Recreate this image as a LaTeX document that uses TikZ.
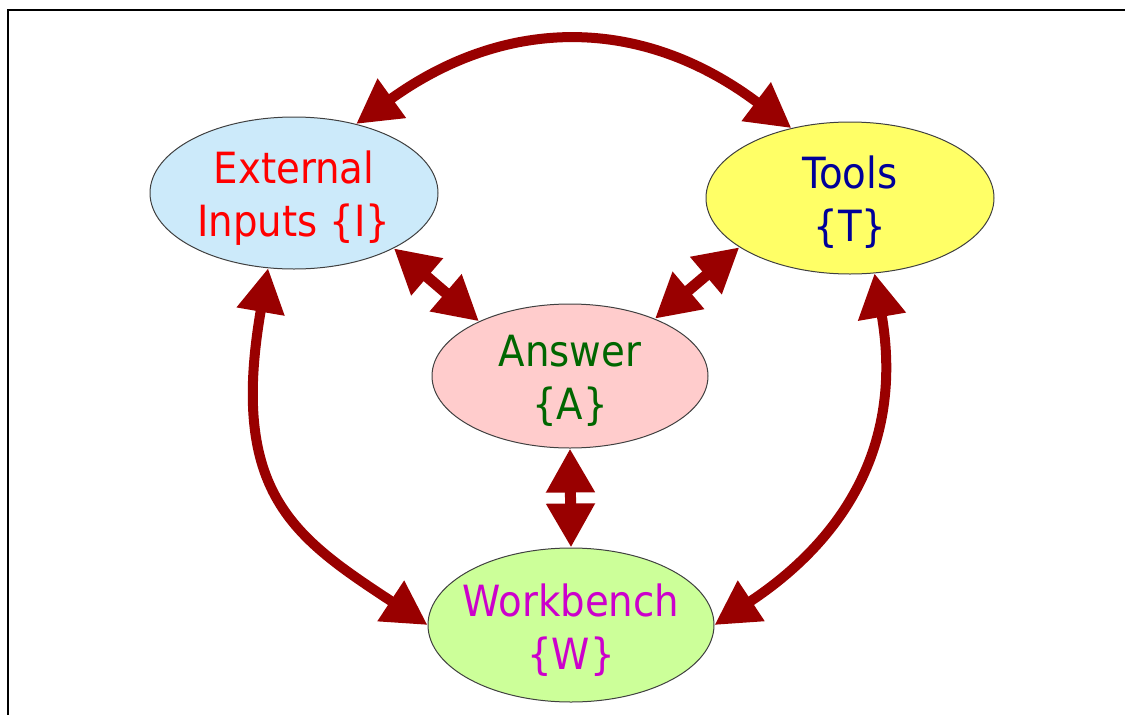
\documentclass[tikz,border=0pt]{standalone}
\usepackage{fontspec}
\setmainfont{DejaVu Sans Condensed}
\usetikzlibrary{arrows.meta,shapes.geometric}
\definecolor{linkred}{HTML}{990000}
\definecolor{inputfill}{HTML}{CCEAFA}
\definecolor{toolfill}{HTML}{FFFF66}
\definecolor{answerfill}{HTML}{FFCCCC}
\definecolor{benchfill}{HTML}{CCFF99}
\definecolor{toolink}{HTML}{000099}
\definecolor{answerink}{HTML}{006600}
\definecolor{benchink}{HTML}{CC00CC}
% struts that fix the vertical extent of the two-line labels
\newcommand\mytopstrut{\rule{0pt}{42pt}}
\newcommand\mybotstrut{\rule[-7pt]{0pt}{7pt}}
\begin{document}
\begin{tikzpicture}[x=1pt,y=1pt,
  ell/.style={ellipse, draw=black!75, line width=1pt, inner sep=0pt},
  lbl/.style={align=center, inner sep=0pt, font=\fontsize{43pt}{53pt}\selectfont},
  link/.style={linkred, line width=10pt,
    {Triangle[length=44pt,width=46pt]}-{Triangle[length=44pt,width=46pt]}}]
\useasboundingbox (0,0) rectangle (1125,-715);
% frame
\draw[line width=2.5pt] (8,-720) -- (8,-10) -- (1130,-10);

% sets
\node[ell, fill=inputfill,  minimum width=288pt, minimum height=152pt] (I) at (294,-193) {};
\node[ell, fill=toolfill,   minimum width=288pt, minimum height=152pt] (T) at (850,-198) {};
\node[ell, fill=answerfill, minimum width=276pt, minimum height=144pt] (A) at (570,-376) {};
\node[ell, fill=benchfill,  minimum width=286pt, minimum height=154pt] (W) at (571,-625) {};

\node[lbl, text=red]       (Itx) at (I) {External\mytopstrut\\Inputs \{I\}\mybotstrut};
\node[lbl, text=toolink]   (Ttx) at (T) {Tools\mytopstrut\\\{T\}\mybotstrut};
\node[lbl, text=answerink] (Atx) at (A) {Answer\mytopstrut\\\{A\}\mybotstrut};
\node[lbl, text=benchink]  (Wtx) at (W) {Workbench\mytopstrut\\\{W\}\mybotstrut};

% relations
\draw[link] (I.48) .. controls +(35.8:186) and +(143:186) .. (T.130);
\draw[link] (I.251) .. controls +(-39,-225) and +(-134,88) .. (W.west);
\draw[link] (T.288) .. controls +(34,-197) and +(100,66) .. (W.east);
\draw[link, line width=11pt] (I.-29) -- (A.149);
\draw[link, line width=11pt] (T.204) -- (A.34);
\draw[link, line width=11pt] (A.south) -- (W.north);
\end{tikzpicture}
\end{document}
